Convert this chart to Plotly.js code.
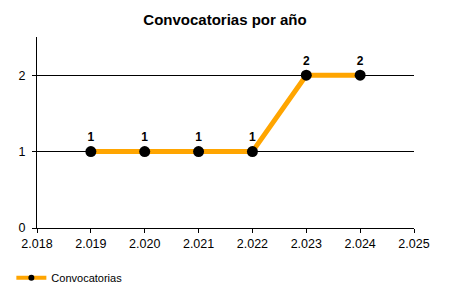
<!DOCTYPE html>
<html>
<head>
<meta charset="utf-8">
<script src="https://cdn.plot.ly/plotly-3.0.1.min.js"></script>
<style>html,body{margin:0;padding:0;background:#fff;}#chart{width:450px;height:300px;}</style>
</head>
<body>
<div id="chart"></div>
<script>
const years = [2019, 2020, 2021, 2022, 2023, 2024];
const convocatorias = [1, 1, 1, 1, 2, 2];
const seriesName = "Convocatorias";
const xTicks = [2018, 2019, 2020, 2021, 2022, 2023, 2024, 2025];
const yTicks = [0, 1, 2];

const font = "Liberation Sans, Arial, sans-serif";

const traces = [
  {
    x: years, y: convocatorias, name: seriesName, type: "scatter", mode: "lines+markers",
    line: {color: "#FFA500", width: 5},
    marker: {color: "#000000", size: 11},
    cliponaxis: false, showlegend: false
  },
  {
    x: years, y: convocatorias, type: "scatter", mode: "markers+text", showlegend: false,
    marker: {size: 10, color: "rgba(0,0,0,0)"},
    text: convocatorias.map(String), textposition: "top center",
    textfont: {family: font, size: 12, color: "#000", weight: "bold"},
    cliponaxis: false, hoverinfo: "skip"
  },
  {
    x: [null], y: [null], name: seriesName, type: "scatter", mode: "lines+markers",
    line: {color: "#FFA500", width: 4},
    marker: {color: "#000000", size: 6},
    showlegend: true
  }
];

const layout = {
  width: 450, height: 300,
  margin: {l: 37, r: 36, t: 37, b: 72, autoexpand: false},
  paper_bgcolor: "#fff", plot_bgcolor: "#fff",
  separators: ",.",
  font: {family: font, size: 12, color: "#000"},
  title: {text: "Convocatorias por año", font: {family: font, size: 15, weight: "bold", color: "#000"}, x: 0.5, xanchor: "center", y: 0.935, yanchor: "middle"},
  xaxis: {
    range: [2018, 2025], tickvals: xTicks, tickformat: ",d",
    showgrid: false, zeroline: false, showline: true, linecolor: "#000", linewidth: 1,
    ticks: "outside", ticklen: 4, tickcolor: "#000", automargin: false,
    tickfont: {family: font, size: 12.5, color: "#000"}
  },
  yaxis: {
    range: [0, 2.5], tickvals: yTicks,
    showgrid: true, gridcolor: "#000", gridwidth: 1, zeroline: false,
    showline: true, linecolor: "#000", linewidth: 1,
    ticks: "outside", ticklen: 4, tickcolor: "#000", automargin: false, ticklabelstandoff: 4,
    tickfont: {family: font, size: 12.5, color: "#000"}
  },
  showlegend: true,
  legend: {orientation: "h", x: -0.068, xanchor: "left", y: -0.26, yanchor: "middle",
    font: {family: font, size: 11, color: "#000"}, bgcolor: "rgba(0,0,0,0)"}
};

Plotly.newPlot("chart", traces, layout, {displayModeBar: false, staticPlot: true});
</script>
</body>
</html>
